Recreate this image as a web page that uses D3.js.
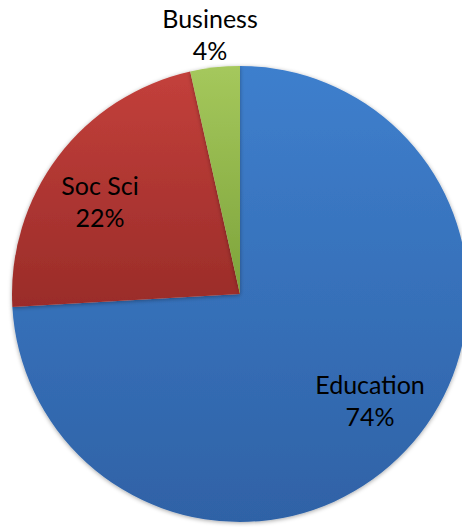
<!DOCTYPE html>
<html>
<head>
<meta charset="utf-8">
<script src="https://cdn.jsdelivr.net/npm/d3@7"></script>
<style>
  body { margin: 0; background: #fff; }
  svg { display: block; }
</style>
</head>
<body>
<script>
const categories = ["Education", "Soc Sci", "Business"];
const values = [74.1, 22.4, 3.5];

const width = 462, height = 527;
const cx = 240, cy = 294, r = 228;

// top / bottom gradient colours per slice
const topColors = ["#3e7fcd", "#c3403b", "#a5c85c"];
const bottomColors = ["#2f62a6", "#9a2c29", "#7da33b"];

const svg = d3.select("body").append("svg")
  .attr("width", width)
  .attr("height", height);

const defs = svg.append("defs");
categories.forEach((c, i) => {
  const g = defs.append("linearGradient")
    .attr("id", "grad" + i)
    .attr("x1", 0).attr("y1", 0).attr("x2", 0).attr("y2", 1);
  g.append("stop").attr("offset", "0%").attr("stop-color", topColors[i]);
  g.append("stop").attr("offset", "100%").attr("stop-color", bottomColors[i]);
});
const f = defs.append("filter").attr("id", "shadow")
  .attr("x", "-10%").attr("y", "-10%").attr("width", "120%").attr("height", "120%");
f.append("feDropShadow").attr("dx", 0).attr("dy", 1).attr("stdDeviation", 2)
  .attr("flood-color", "#000").attr("flood-opacity", 0.35);

const pie = d3.pie().sort(null).value(d => d);
const arcs = pie(values);
const arc = d3.arc().innerRadius(0).outerRadius(r);
const pct = d3.format(".0%");

const g = svg.append("g").attr("transform", `translate(${cx},${cy})`);

g.selectAll("path")
  .data(arcs)
  .join("path")
  .attr("d", arc)
  .attr("fill", (d, i) => `url(#grad${i})`)
  .attr("filter", "url(#shadow)");

// label positions (relative to centre)
const labelPos = [[130, 100], [-140, -99], [-30, -266]];

const lab = g.selectAll("text.lab")
  .data(arcs)
  .join("text")
  .attr("class", "lab")
  .attr("text-anchor", "middle")
  .attr("font-family", "Lato, 'Open Sans', sans-serif")
  .attr("font-size", 25)
  .attr("fill", "#000")
  .attr("transform", (d, i) => `translate(${labelPos[i][0]},${labelPos[i][1]})`);

lab.append("tspan").attr("x", 0).attr("dy", 0).text((d, i) => categories[i]);
lab.append("tspan").attr("x", 0).attr("dy", 32).text(d => pct(Math.round(d.data) / 100));
</script>
</body>
</html>
